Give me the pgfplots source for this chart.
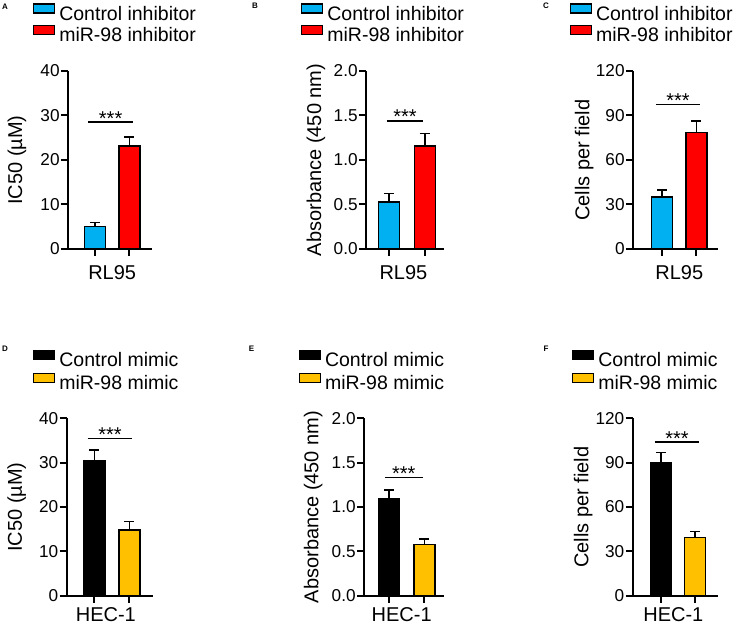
\documentclass[border=0pt]{standalone}
\usepackage{fontspec}
\setmainfont{Liberation Sans}
\usepackage{pgfplots}
\pgfplotsset{compat=1.18}
\definecolor{cblue}{RGB}{0,176,240}
\definecolor{cred}{RGB}{255,0,0}
\definecolor{cyel}{RGB}{255,192,0}
\pgfplotsset{
  panel/.style={
    scale only axis, clip=false,
    axis lines*=left,
    axis line style={line width=2bp,-},
    tick align=outside, major tick length=7bp,
    every tick/.style={line width=2bp,black},
    xtick={0,1}, xticklabels={},
    ymin=0,
    ticklabel style={font=\fontsize{17.2bp}{18bp}\selectfont},
    yticklabel style={inner sep=1.2bp},
    label style={font=\fontsize{20bp}{21bp}\selectfont},
    legend style={draw=none, fill=none, inner sep=0pt, outer sep=0pt, anchor=north west,
      font=\fontsize{19.5bp}{21bp}\selectfont,
      nodes={inner sep=0pt, text height=15.5bp, text depth=4.5bp}},
    legend cell align=left,
    legend image code/.code={\draw[##1, line width=1.3bp] (0bp,1.5bp) rectangle (21bp,10.5bp); \path (25.5bp,0bp);},
  },
  bars/.style={ybar, bar width=21bp, bar shift=0pt, draw=black, line width=1.5bp, forget plot,
    error bars/y dir=plus, error bars/y explicit,
    error bars/error bar style={line width=1.5bp, black},
    error bars/error mark options={rotate=90, mark size=5bp, line width=1.5bp, black}},
  sig/.style={black, line width=1.5bp, forget plot},
}
\newcommand{\stars}{\fontsize{20bp}{20bp}\selectfont ***}
\begin{document}
\begin{tikzpicture}
\useasboundingbox (0,0) rectangle (737bp,627bp);
\tikzset{plab/.style={font=\fontsize{8bp}{8bp}\selectfont\bfseries, anchor=center}}
\node[plab] at (5bp,620bp) {A};
\node[plab] at (255bp,621bp) {B};
\node[plab] at (546bp,621bp) {C};
\node[plab] at (5bp,278.5bp) {D};
\node[plab] at (251.5bp,278.5bp) {E};
\node[plab] at (546bp,278.5bp) {F};

% A
\begin{axis}[panel, anchor=south west, at={(68bp,378bp)}, width=84bp, height=178bp,
  xmin=-0.787, xmax=1.66, ymax=40, ytick={0,10,20,30,40}, yticklabels={0,10,20,30,40},
  ylabel={IC50 (µM)}, ylabel style={at={(axis description cs:-0.607,0.5)}, anchor=center},
  xlabel={RL95}, xlabel style={at={(axis description cs:0.526,-0.174)}, anchor=base},
  legend style={at={(-0.417,1.380)}}]
\addlegendimage{fill=cblue, draw=black}
\addlegendentry{Control inhibitor}
\addlegendimage{fill=cred, draw=black}
\addlegendentry{miR-98 inhibitor}
\addplot[bars, fill=cblue] coordinates {(0,5.0) +- (0,0.9)};
\addplot[bars, fill=cred] coordinates {(1,23.2) +- (0,2.0)};
\addplot[sig] coordinates {(-0.2,28.5) (1.11,28.5)};
\node[anchor=base, yshift=-3bp] at (axis cs:0.455,28.5) {\stars};
\end{axis}

% B
\begin{axis}[panel, anchor=south west, at={(366bp,378bp)}, width=78bp, height=178bp,
  xmin=-0.64, xmax=1.53, ymax=2, ytick={0,0.5,1,1.5,2}, yticklabels={0.0,0.5,1.0,1.5,2.0},
  ylabel={Absorbance (450 nm)}, ylabel style={at={(axis description cs:-0.641,0.5)}, anchor=center},
  xlabel={RL95}, xlabel style={at={(axis description cs:0.48,-0.174)}, anchor=base},
  legend style={at={(-0.833,1.380)}}]
\addlegendimage{fill=cblue, draw=black}
\addlegendentry{Control inhibitor}
\addlegendimage{fill=cred, draw=black}
\addlegendentry{miR-98 inhibitor}
\addplot[bars, fill=cblue] coordinates {(0,0.53) +- (0,0.095)};
\addplot[bars, fill=cred] coordinates {(1,1.16) +- (0,0.14)};
\addplot[sig] coordinates {(-0.06,1.44) (0.95,1.44)};
\node[anchor=base, yshift=-3bp] at (axis cs:0.445,1.44) {\stars};
\end{axis}

% C
\begin{axis}[panel, anchor=south west, at={(633bp,378bp)}, width=85bp, height=178bp,
  xmin=-0.845, xmax=1.63, ymax=120, ytick={0,30,60,90,120}, yticklabels={0,30,60,90,120},
  ylabel={Cells per field}, ylabel style={at={(axis description cs:-0.573,0.5)}, anchor=center},
  xlabel={RL95}, xlabel style={at={(axis description cs:0.544,-0.174)}, anchor=base},
  legend style={at={(-0.745,1.380)}}]
\addlegendimage{fill=cblue, draw=black}
\addlegendentry{Control inhibitor}
\addlegendimage{fill=cred, draw=black}
\addlegendentry{miR-98 inhibitor}
\addplot[bars, fill=cblue] coordinates {(0,34.9) +- (0,4.9)};
\addplot[bars, fill=cred] coordinates {(1,78.4) +- (0,7.9)};
\addplot[sig] coordinates {(-0.18,97.3) (1.11,97.3)};
\node[anchor=base, yshift=-3bp] at (axis cs:0.465,97.3) {\stars};
\end{axis}

% D
\begin{axis}[panel, anchor=south west, at={(66.7bp,31.3bp)}, width=86bp, height=177.4bp,
  xmin=-0.79, xmax=1.67, ymax=40, ytick={0,10,20,30,40}, yticklabels={0,10,20,30,40},
  ylabel={IC50 (µM)}, ylabel style={at={(axis description cs:-0.581,0.5)}, anchor=center},
  xlabel={HEC-1}, xlabel style={at={(axis description cs:0.455,-0.143)}, anchor=base},
  legend style={at={(-0.392,1.385)}, row sep=1.7bp}]
\addlegendimage{fill=black, draw=black}
\addlegendentry{Control mimic}
\addlegendimage{fill=cyel, draw=black}
\addlegendentry{miR-98 mimic}
\addplot[bars, fill=black] coordinates {(0,30.4) +- (0,2.5)};
\addplot[bars, fill=cyel] coordinates {(1,14.8) +- (0,1.9)};
\addplot[sig] coordinates {(-0.19,35.5) (1.09,35.5)};
\node[anchor=base, yshift=-3bp] at (axis cs:0.45,35.5) {\stars};
\end{axis}

% E
\begin{axis}[panel, anchor=south west, at={(364bp,31.3bp)}, width=80bp, height=177.4bp,
  xmin=-0.71, xmax=1.56, ymax=2, ytick={0,0.5,1,1.5,2}, yticklabels={0.0,0.5,1.0,1.5,2.0},
  ylabel={Absorbance (450 nm)}, ylabel style={at={(axis description cs:-0.634,0.5)}, anchor=center},
  xlabel={HEC-1}, xlabel style={at={(axis description cs:0.471,-0.143)}, anchor=base},
  legend style={at={(-0.816,1.385)}, row sep=1.7bp}]
\addlegendimage{fill=black, draw=black}
\addlegendentry{Control mimic}
\addlegendimage{fill=cyel, draw=black}
\addlegendentry{miR-98 mimic}
\addplot[bars, fill=black] coordinates {(0,1.09) +- (0,0.10)};
\addplot[bars, fill=cyel] coordinates {(1,0.58) +- (0,0.06)};
\addplot[sig] coordinates {(-0.11,1.33) (0.95,1.33)};
\node[anchor=base, yshift=-3bp] at (axis cs:0.42,1.33) {\stars};
\end{axis}

% F
\begin{axis}[panel, anchor=south west, at={(632.7bp,31.3bp)}, width=85bp, height=177.4bp,
  xmin=-0.82, xmax=1.66, ymax=120, ytick={0,30,60,90,120}, yticklabels={0,30,60,90,120},
  ylabel={Cells per field}, ylabel style={at={(axis description cs:-0.581,0.5)}, anchor=center},
  xlabel={HEC-1}, xlabel style={at={(axis description cs:0.478,-0.143)}, anchor=base},
  legend style={at={(-0.714,1.385)}, row sep=1.7bp}]
\addlegendimage{fill=black, draw=black}
\addlegendentry{Control mimic}
\addlegendimage{fill=cyel, draw=black}
\addlegendentry{miR-98 mimic}
\addplot[bars, fill=black] coordinates {(0,90.2) +- (0,6.5)};
\addplot[bars, fill=cyel] coordinates {(1,39.5) +- (0,3.8)};
\addplot[sig] coordinates {(-0.17,103.8) (1.12,103.8)};
\node[anchor=base, yshift=-3bp] at (axis cs:0.475,103.8) {\stars};
\end{axis}
\end{tikzpicture}
\end{document}
